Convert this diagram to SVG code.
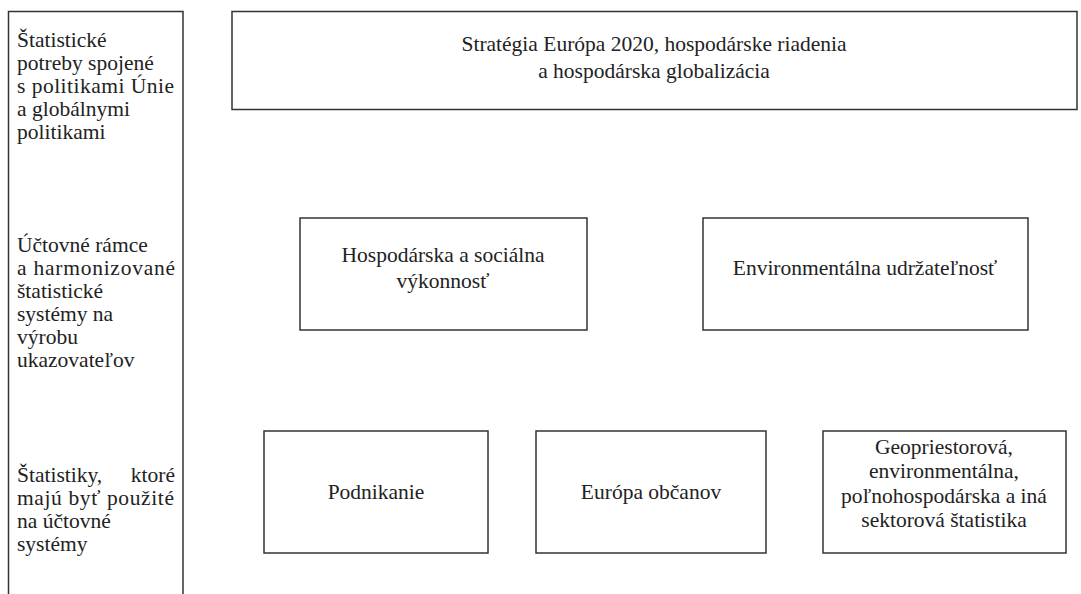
<svg xmlns="http://www.w3.org/2000/svg" width="1081" height="594" viewBox="0 0 1081 594">
<style>
.box{fill:#fff;stroke:#333;stroke-width:1.5}
text{font-family:"Liberation Serif",serif;font-size:21.5px;fill:#222}
.c{text-anchor:middle}
.r{text-anchor:end}
</style>
<rect width="1081" height="594" fill="#fff"/>
<g id="left-column">
<path class="box" d="M8.5,600 V11.5 H183 V600"/>
<text x="17" y="47">Štatistické</text>
<text x="17" y="70">potreby spojené</text>
<text x="17" y="93" textLength="157" lengthAdjust="spacing">s politikami Únie</text>
<text x="17" y="116">a globálnymi</text>
<text x="17" y="139">politikami</text>
<text x="17" y="252">Účtovné rámce</text>
<text x="17" y="275" textLength="158" lengthAdjust="spacing">a harmonizované</text>
<text x="17" y="298">štatistické</text>
<text x="17" y="321">systémy na</text>
<text x="17" y="344">výrobu</text>
<text x="17" y="367">ukazovateľov</text>
<text x="17" y="482">Štatistiky,</text><text x="175" y="482" class="r">ktoré</text>
<text x="17" y="505" textLength="157" lengthAdjust="spacing">majú byť použité</text>
<text x="17" y="528">na účtovné</text>
<text x="17" y="551">systémy</text>
</g>
<g id="top">
<rect class="box" x="232" y="11.5" width="845" height="98"/>
<text class="c" x="654" y="51">Stratégia Európa 2020, hospodárske riadenia</text>
<text class="c" x="654" y="78">a hospodárska globalizácia</text>
</g>
<g id="hospodarska">
<rect class="box" x="300" y="218" width="287" height="112"/>
<text class="c" x="443" y="262">Hospodárska a sociálna</text>
<text class="c" x="443" y="288">výkonnosť</text>
</g>
<g id="environmentalna">
<rect class="box" x="703" y="218" width="325" height="112"/>
<text class="c" x="865" y="275">Environmentálna udržateľnosť</text>
</g>
<g id="podnikanie">
<rect class="box" x="264" y="431" width="224" height="122"/>
<text class="c" x="376" y="499">Podnikanie</text>
</g>
<g id="europa">
<rect class="box" x="536" y="431" width="230" height="122"/>
<text class="c" x="651" y="499">Európa občanov</text>
</g>
<g id="geo">
<rect class="box" x="823" y="431" width="243" height="122"/>
<text class="c" x="944" y="454">Geopriestorová,</text>
<text class="c" x="944" y="478">environmentálna,</text>
<text class="c" x="944" y="503">poľnohospodárska a iná</text>
<text class="c" x="944" y="527">sektorová štatistika</text>
</g>
<g id="connectors"/>
</svg>
